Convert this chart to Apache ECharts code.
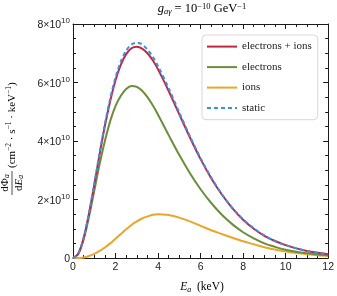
<!DOCTYPE html>
<html><head><meta charset="utf-8">
<script src="https://cdn.jsdelivr.net/npm/echarts@6/dist/echarts.min.js"></script>
<style>html,body{margin:0;padding:0;background:#fff}#c{width:337px;height:296px}</style>
</head><body><div id="c"></div>
<script>
// Energies in keV; fluxes in units of 1e10 cm^-2 s^-1 keV^-1
const energies = [0,0.25,0.5,0.75,1,1.25,1.5,1.75,2,2.25,2.5,2.75,3,3.25,3.5,3.75,4,4.5,5,5.5,6,6.5,7,7.5,8,8.5,9,9.5,10,10.5,11,11.5,12];
const electronsIons = [0,0.15,0.68,1.51,2.50,3.54,4.52,5.37,6.08,6.61,6.97,7.17,7.22,7.16,7.00,6.76,6.45,5.71,4.91,4.12,3.38,2.73,2.17,1.70,1.31,1.00,0.76,0.58,0.44,0.33,0.24,0.18,0.13];
const electrons = [0,0.14,0.63,1.40,2.30,3.20,4.00,4.68,5.20,5.55,5.78,5.88,5.85,5.72,5.50,5.22,4.90,4.20,3.52,2.90,2.35,1.88,1.48,1.15,0.88,0.67,0.50,0.38,0.28,0.21,0.16,0.12,0.09];
const ions = [0,0,0.02,0.07,0.14,0.24,0.36,0.50,0.66,0.82,0.98,1.13,1.25,1.35,1.42,1.48,1.50,1.47,1.38,1.25,1.10,0.95,0.82,0.69,0.57,0.47,0.37,0.29,0.22,0.17,0.13,0.09,0.07];
const staticFlux = [0,0.15,0.69,1.53,2.54,3.59,4.58,5.45,6.18,6.72,7.09,7.30,7.36,7.30,7.13,6.88,6.56,5.80,4.97,4.16,3.41,2.75,2.18,1.71,1.32,1.02,0.77,0.58,0.44,0.33,0.24,0.18,0.13];
const xTicks = [0,2,4,6,8,10,12];
const yTicks = [0,2,4,6,8];
const seriesNames = ['electrons + ions','electrons','ions','static'];
const colors = ['#c4263e','#6a8f3b','#eba52a','#3a8fe8'];

const serif = 'Liberation Serif';
const sans = 'Liberation Sans';
function pairs(ys){ return energies.map((e,i)=>[e, ys[i]]); }

const chart = echarts.init(document.getElementById('c'), null, {renderer:'canvas'});

const lineBlack = {color:'#1a1a1a', width:1};
function xAx(pos, showLabel){
  return {type:'value', min:xTicks[0], max:xTicks[xTicks.length-1], interval:xTicks[1]-xTicks[0], position:pos,
    axisLine:{show:true, onZero:false, lineStyle:lineBlack},
    axisTick:{show:true, inside:true, length:5, lineStyle:lineBlack},
    minorTick:{show:true, splitNumber:4, length:3, lineStyle:lineBlack},
    splitLine:{show:false}, minorSplitLine:{show:false},
    axisLabel:{show:showLabel, fontFamily:sans, fontSize:10.5, color:'#222', margin:4}};
}
function yAx(pos, showLabel){
  return {type:'value', min:yTicks[0], max:yTicks[yTicks.length-1], interval:yTicks[1]-yTicks[0], position:pos,
    axisLine:{show:true, onZero:false, lineStyle:lineBlack},
    axisTick:{show:true, inside:true, length:5, lineStyle:lineBlack},
    minorTick:{show:true, splitNumber:4, length:3, lineStyle:lineBlack},
    splitLine:{show:false}, minorSplitLine:{show:false},
    axisLabel:{show:showLabel, margin:3,
      formatter: v => v === 0 ? '{m|0}' : '{m|' + v + '×10}{s|10}',
      rich:{m:{fontFamily:sans, fontSize:10.5, color:'#222', lineHeight:14, verticalAlign:'bottom'},
            s:{fontFamily:sans, fontSize:8, color:'#222', lineHeight:9, verticalAlign:'top'}}}};
}

const series = [electronsIons, electrons, ions, staticFlux].map((d,i)=>({
  name: seriesNames[i], type:'line', data: pairs(d), xAxisIndex:0, yAxisIndex:0,
  showSymbol:false, symbol:'circle', symbolSize:0, smooth:0.3, z: i===3 ? 5 : 3-i,
  lineStyle:{color:colors[i], width:2, type: i===3 ? [4,3] : 'solid'},
  itemStyle:{color:colors[i]}
}));

const txt = {fontFamily:serif, fontSize:11, color:'#222'};
const option = {
  animation:false,
  backgroundColor:'#fff',
  grid:{left:73, right:6, top:24, bottom:38},
  xAxis:[xAx('bottom', true), xAx('top', false)],
  yAxis:[yAx('left', true), yAx('right', false)],
  legend:{orient:'vertical', left:202, top:35, itemWidth:30, itemHeight:14, itemGap:9.3,
    padding:[6,6,6,4], backgroundColor:'#fff', borderColor:'#d8d8d8', borderWidth:1, borderRadius:4,
    itemStyle:{opacity:0, borderWidth:0},
    textStyle:{fontFamily:serif, fontSize:11, color:'#222'}, data: seriesNames},
  series: series,
  graphic:[
    {type:'text', x:202, y:9, style:{
      text:'{g|g}{sub|aγ}{t| = 10}{sup|−10}{t| GeV}{sup|−1}',
      align:'center', verticalAlign:'middle',
      rich:{g:{...txt, fontSize:12.5, fontStyle:'italic', lineHeight:14, verticalAlign:'middle'},
            sub:{...txt, fontSize:8.5, fontStyle:'italic', lineHeight:8, verticalAlign:'bottom'},
            t:{...txt, fontSize:12.5, lineHeight:14, verticalAlign:'middle'},
            sup:{...txt, fontSize:8.5, lineHeight:8, verticalAlign:'top'}}}},
    {type:'text', x:202, y:287, style:{
      text:'{e|E}{a|a}{t|  (keV)}', align:'center', verticalAlign:'middle',
      rich:{e:{...txt, fontSize:11.5, fontStyle:'italic', lineHeight:14, verticalAlign:'middle'},
            a:{...txt, fontSize:8, fontStyle:'italic', lineHeight:8, verticalAlign:'bottom'},
            t:{...txt, fontSize:11.5, lineHeight:14, verticalAlign:'middle'}}}},
    {type:'group', x:12, y:183, rotation:Math.PI/2, children:[
      {type:'text', x:0, y:-1, style:{text:'{t|dΦ}{a|a}', align:'center', verticalAlign:'bottom',
        rich:{t:{...txt, fontSize:11, lineHeight:12, verticalAlign:'middle'},
              a:{...txt, fontSize:7.5, fontStyle:'italic', lineHeight:7, verticalAlign:'bottom'}}}},
      {type:'line', shape:{x1:-12, y1:0, x2:12, y2:0}, style:{stroke:'#222', lineWidth:0.8}},
      {type:'text', x:0, y:1, style:{text:'{t|d}{e|E}{a|a}', align:'center', verticalAlign:'top',
        rich:{t:{...txt, fontSize:11, lineHeight:12, verticalAlign:'middle'},
              e:{...txt, fontSize:11, fontStyle:'italic', lineHeight:12, verticalAlign:'middle'},
              a:{...txt, fontSize:7.5, fontStyle:'italic', lineHeight:7, verticalAlign:'bottom'}}}},
      {type:'text', x:15, y:0, style:{text:'{t|(cm}{s|−2}{t| · s}{s|−1}{t| · keV}{s|−1}{t|)}', align:'left', verticalAlign:'middle',
        rich:{t:{...txt, fontSize:11, lineHeight:13, verticalAlign:'middle'},
              s:{...txt, fontSize:7.5, lineHeight:7, verticalAlign:'top'}}}}
    ]}
  ]
};
chart.setOption(option);
</script></body></html>
